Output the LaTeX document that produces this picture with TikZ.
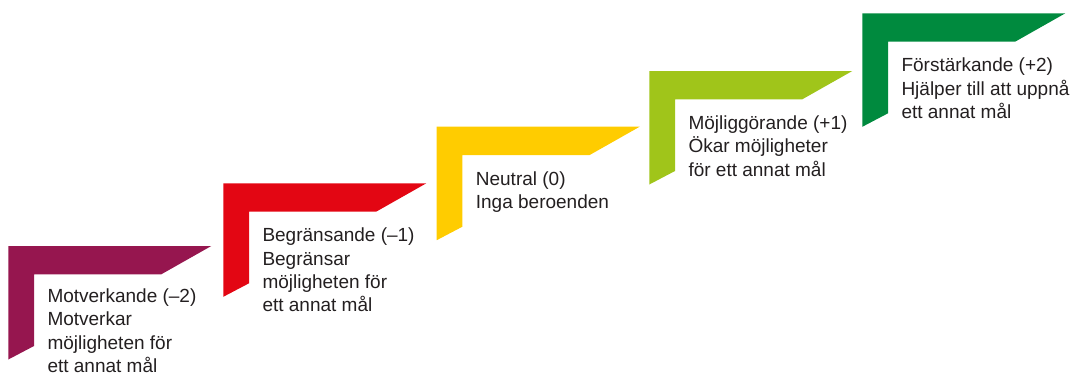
\documentclass[tikz,border=0pt]{standalone}
\usepackage{fontspec}
\setmainfont{Liberation Sans}
\definecolor{cMot}{HTML}{96164F}
\definecolor{cBeg}{HTML}{E30613}
\definecolor{cNeu}{HTML}{FFCC00}
\definecolor{cMoj}{HTML}{A0C51A}
\definecolor{cFor}{HTML}{008A3E}
\definecolor{txt}{HTML}{231F20}
\tikzset{
  lbl/.style={anchor=base west, inner sep=0pt, align=left, text=txt,
    font=\fontsize{19}{23.3}\selectfont},
}
\newcommand{\stairAt}[3]{%
  \fill[#3] (#1,#2) -- ++(203,0) -- ++(-50,28.3) -- ++(-127.3,0) -- ++(0,71.7) -- ++(-25.7,13.5) -- cycle;}
\begin{document}
\begin{tikzpicture}[x=1pt,y=-1pt]
\useasboundingbox (0,0) rectangle (1072,376);
\stairAt{8.3}{246}{cMot}
\stairAt{223.3}{183.3}{cBeg}
\stairAt{436.7}{126.7}{cNeu}
\stairAt{649.3}{71}{cMoj}
\stairAt{862.3}{13.3}{cFor}
% base anchor sits on the last line's baseline
\node[lbl] (tMot) at (47.3,372.3) {Motverkande (–2)\\Motverkar\\möjligheten för\\ett annat mål};
\node[lbl] (tBeg) at (262.3,311.7) {Begränsande (–1)\\Begränsar\\möjligheten för\\ett annat mål};
\node[lbl] (tNeu) at (475.7,208.5) {Neutral (0)\\Inga beroenden};
\node[lbl] (tMoj) at (688.3,176.1) {Möjliggörande (+1)\\Ökar möjligheter\\för ett annat mål};
\node[lbl] (tFor) at (901.3,118.4) {Förstärkande (+2)\\Hjälper till att uppnå\\ett annat mål};
\end{tikzpicture}
\end{document}
